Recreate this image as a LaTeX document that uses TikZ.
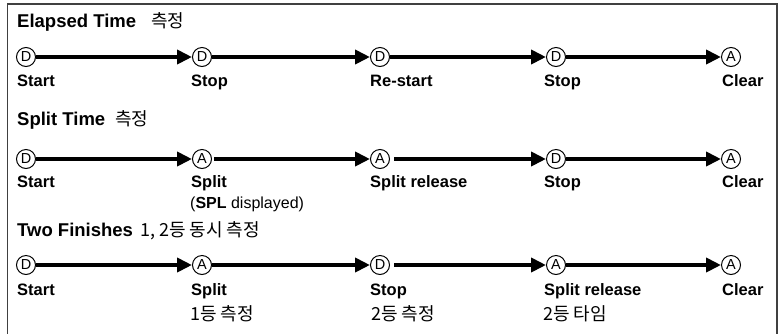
\documentclass[tikz,border=0pt]{standalone}
\usepackage{fontspec}
\setmainfont{Liberation Sans}
\newfontfamily\krfont{Noto Sans CJK KR}
\usetikzlibrary{arrows.meta}
\tikzset{
  st/.style={circle,draw,line width=1pt,inner sep=0pt,minimum size=19pt,font=\fontsize{14.5}{14.5}\selectfont},
  lab/.style={anchor=base west,inner sep=0pt,font=\fontsize{16.5}{16.5}\selectfont\bfseries},
  ttl/.style={anchor=base west,inner sep=0pt,font=\fontsize{18.5}{18.5}\selectfont\bfseries},
  kr/.style={anchor=base west,inner sep=0pt,font=\fontsize{18}{18}\selectfont\krfont},
  arr/.style={line width=4.5pt,-{Triangle[length=15pt,width=14pt]}},
  frame/.style={draw=black!75,line width=1.3pt}
}
\begin{document}
\begin{tikzpicture}[x=1pt,y=-1pt]
\useasboundingbox (0,0) rectangle (781,333);
\draw[frame] (7.5,345) -- (7.5,4) -- (777,4) -- (777,345);

% Row 1
\node[ttl] (t1) at (17,27) {Elapsed Time};
\node[kr] (t1k) at (151,27) {측정};
\node[st] (a1) at (26,57) {D};
\node[st] (a2) at (202,57) {D};
\node[st] (a3) at (380,57) {D};
\node[st] (a4) at (556,57) {D};
\node[st] (a5) at (731,57) {A};
\draw[arr] (a1) -- (a2);
\draw[arr] (a2) -- (a3);
\draw[arr] (a3) -- (a4);
\draw[arr] (a4) -- (a5);
\node[lab] (l1) at (17,86) {Start};
\node[lab] (l2) at (191,86) {Stop};
\node[lab] (l3) at (370,86) {Re-start};
\node[lab] (l4) at (544,86) {Stop};
\node[lab] (l5) at (722,86) {Clear};

% Row 2
\node[ttl] (t2) at (17,125) {Split Time};
\node[kr] (t2k) at (115,125) {측정};
\node[st] (b1) at (26,159) {D};
\node[st] (b2) at (202,159) {A};
\node[st] (b3) at (380,159) {A};
\node[st] (b4) at (556,159) {D};
\node[st] (b5) at (731,159) {A};
\draw[arr] (b1) -- (b2);
\draw[arr] ([xshift=2pt]b2.east) -- (b3);
\draw[arr] ([xshift=4pt]b3.east) -- (b4);
\draw[arr] (b4) -- (b5);
\node[lab] (m1) at (17,187) {Start};
\node[lab] (m2) at (191,187) {Split};
\node[lab] (m3) at (370,187) {Split release};
\node[lab] (m4) at (544,187) {Stop};
\node[lab] (m5) at (722,187) {Clear};
\node[anchor=base west,inner sep=0pt,font=\fontsize{16}{16}\selectfont] (m2b) at (190,208) {(\textbf{SPL} displayed)};

% Row 3
\node[ttl] (t3) at (17,236) {Two Finishes};
\node[kr] (t3k) at (140,236) {1, 2등 동시 측정};
\node[st] (c1) at (26,265) {D};
\node[st] (c2) at (202,265) {A};
\node[st] (c3) at (380,265) {D};
\node[st] (c4) at (556,265) {A};
\node[st] (c5) at (731,265) {A};
\draw[arr] (c1) -- (c2);
\draw[arr] (c2) -- (c3);
\draw[arr] ([xshift=4pt]c3.east) -- (c4);
\draw[arr] (c4) -- (c5);
\node[lab] (n1) at (17,295) {Start};
\node[lab] (n2) at (191,295) {Split};
\node[lab] (n3) at (370,295) {Stop};
\node[lab] (n4) at (544,295) {Split release};
\node[lab] (n5) at (722,295) {Clear};
\node[kr] (k2) at (190,320) {1등 측정};
\node[kr] (k3) at (371,320) {2등 측정};
\node[kr] (k4) at (543,320) {2등 타임};
\end{tikzpicture}
\end{document}
